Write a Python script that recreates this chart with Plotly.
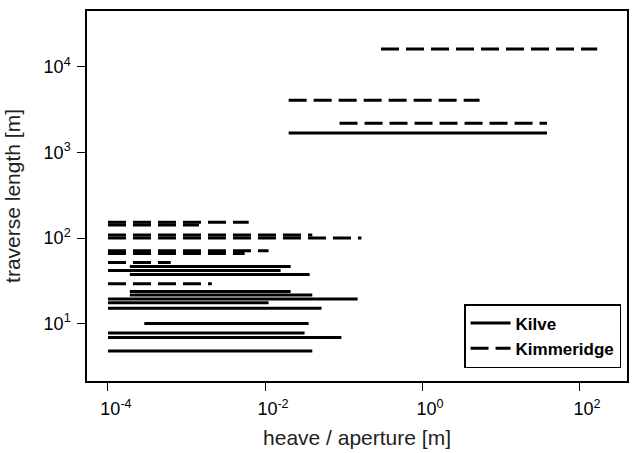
import plotly.graph_objects as go

# Kilve (solid) segments: traverse length, heave/aperture min & max
kilve_length = [1690, 46.6, 41.8, 37.6, 23.8, 21.6, 19.4, 17.5, 15.1, 10.05, 7.8, 6.9, 4.8]
kilve_xmin = [0.020, 1.9e-4, 1e-4, 1.9e-4, 1.9e-4, 1.9e-4, 1e-4, 1e-4, 1e-4, 2.9e-4, 1e-4, 1e-4, 1e-4]
kilve_xmax = [39, 0.0212, 0.0158, 0.037, 0.0212, 0.040, 0.151, 0.0111, 0.0525, 0.0359, 0.0319, 0.094, 0.040]

# Kimmeridge (dashed) segments
kim_length = [16200, 4080, 2200, 153, 142, 109, 100, 71.3, 66.2, 51.9, 29.2]
kim_xmin = [0.30, 0.020, 0.089, 1e-4, 1e-4, 1e-4, 1e-4, 1e-4, 1e-4, 1e-4, 1e-4]
kim_xmax = [170, 5.4, 39, 0.0062, 0.00144, 0.040, 0.169, 0.0111, 0.0055, 6.3e-4, 0.0021]

x_tickvals = [1e-4, 1e-2, 1e0, 1e2]
x_ticktext = ["10<sup>-4</sup>", "10<sup>-2</sup>", "10<sup>0</sup>", "10<sup>2</sup>"]
y_tickvals = [1e1, 1e2, 1e3, 1e4]
y_ticktext = ["10<sup>1</sup>", "10<sup>2</sup>", "10<sup>3</sup>", "10<sup>4</sup>"]

fig = go.Figure()
for i, (L, a, b) in enumerate(zip(kilve_length, kilve_xmin, kilve_xmax)):
    fig.add_trace(go.Scatter(x=[a, b], y=[L, L], mode="lines", name="<b>Kilve</b>",
                             legendgroup="kilve", showlegend=(i == 0),
                             line=dict(color="black", width=3)))
for i, (L, a, b) in enumerate(zip(kim_length, kim_xmin, kim_xmax)):
    fig.add_trace(go.Scatter(x=[a, b], y=[L, L], mode="lines", name="<b>Kimmeridge</b>",
                             legendgroup="kim", showlegend=(i == 0),
                             line=dict(color="black", width=3, dash="18px,7px")))

axis_common = dict(showline=True, linecolor="black", linewidth=1.5, mirror=True,
                   ticks="outside", ticklen=8, tickwidth=1.2, tickcolor="black",
                   showgrid=False, zeroline=False, automargin=False,
                   tickfont=dict(size=18, color="black"))

fig.update_xaxes(type="log", range=[-4.267, 2.61], tickvals=x_tickvals, ticktext=x_ticktext,
                 ticklabelshift=8, ticklabelstandoff=3,
                 title=dict(text="heave / aperture [m]", font=dict(size=21, color="#222"), standoff=12),
                 **axis_common)
fig.update_yaxes(type="log", range=[0.33, 4.654], tickvals=y_tickvals, ticktext=y_ticktext,
                 ticklabelstandoff=3,
                 title=dict(text="traverse length [m]", font=dict(size=21, color="#222"), standoff=17),
                 **axis_common)

fig.update_layout(
    width=634, height=453,
    margin=dict(l=87, r=7, t=11, b=72),
    plot_bgcolor="white", paper_bgcolor="white",
    font=dict(family="Liberation Sans, Arial, sans-serif", color="black"),
    showlegend=True,
    legend=dict(x=0.989, y=0.035, xanchor="right", yanchor="bottom",
                bordercolor="black", borderwidth=1.5, bgcolor="white",
                font=dict(size=17, color="black"), tracegroupgap=0,
                itemwidth=40),
)

fig.write_html("out.html", config={"displayModeBar": False},
               post_script="document.body.style.margin='0';document.body.style.padding='0';")
